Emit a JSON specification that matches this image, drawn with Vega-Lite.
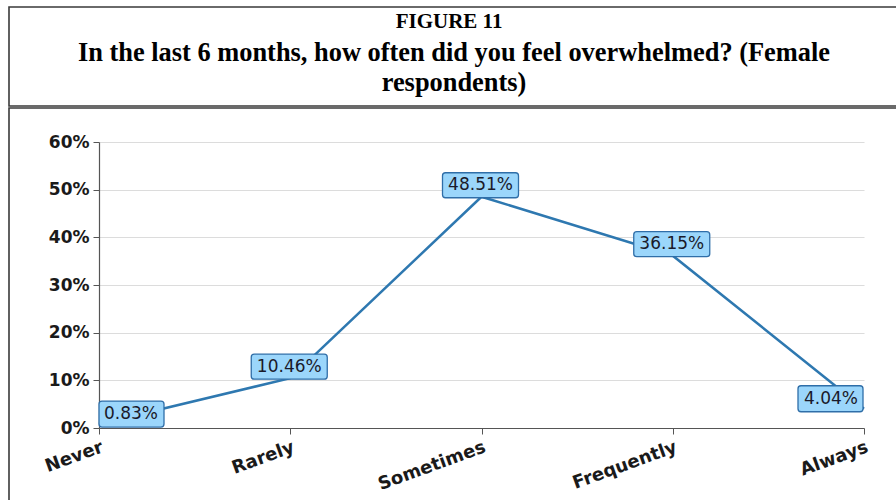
{
  "$schema": "https://vega.github.io/schema/vega-lite/v6.json",
  "background": "white",
  "padding": {"left": 8, "top": 6, "right": 0, "bottom": 0},
  "spacing": 0,
  "config": {"view": {"stroke": "#3a3a3a", "strokeWidth": 1.6}, "concat": {"spacing": 0}},
  "datasets": {
    "responses": [
      {"freq": "Never", "pct": 0.0083},
      {"freq": "Rarely", "pct": 0.1046},
      {"freq": "Sometimes", "pct": 0.4851},
      {"freq": "Frequently", "pct": 0.3615},
      {"freq": "Always", "pct": 0.0404}
    ]
  },
  "vconcat": [
    {
      "width": 890,
      "height": 99,
      "data": {"values": [
        {"line": 1, "t": "FIGURE 11"},
        {"line": 2, "t": "In the last 6 months, how often did you feel overwhelmed? (Female"},
        {"line": 3, "t": "respondents)"}
      ]},
      "encoding": {
        "y": {"field": "line", "type": "ordinal", "scale": {"type": "point", "range": [15, 75], "padding": 0}, "axis": null},
        "text": {"field": "t", "type": "nominal"}
      },
      "layer": [
        {
          "transform": [{"filter": "datum.line == 1"}],
          "mark": {"type": "text", "font": "Liberation Serif", "fontWeight": "bold", "fontSize": 21, "color": "black", "baseline": "middle", "align": "center", "dx": -5}
        },
        {
          "transform": [{"filter": "datum.line != 1"}],
          "mark": {"type": "text", "font": "Liberation Serif", "fontWeight": "bold", "fontSize": 26.4, "color": "black", "baseline": "middle", "align": "center", "dy": 1}
        }
      ]
    },
    {
      "width": 890,
      "height": 400,
      "data": {"name": "responses"},
      "encoding": {
        "x": {
          "field": "freq", "type": "ordinal",
          "sort": ["Never", "Rarely", "Sometimes", "Frequently", "Always"],
          "scale": {"type": "point", "range": [90, 855], "padding": 0},
          "axis": {"title": null, "offset": -80, "labelAngle": -20, "labelAlign": "right", "labelBaseline": "top",
                   "labelFont": "DejaVu Sans", "labelFontWeight": "bold", "labelFontSize": 18, "labelColor": "#1a1a1a",
                   "labelPadding": 4, "tickSize": 6, "tickColor": "#555", "domainColor": "#555", "domainWidth": 1.2, "grid": false}
        },
        "y": {
          "field": "pct", "type": "quantitative",
          "scale": {"domain": [0, 0.6], "range": [320, 34], "nice": false},
          "axis": {"title": null, "offset": -90, "format": ".0%", "values": [0, 0.1, 0.2, 0.3, 0.4, 0.5, 0.6],
                   "labelFont": "DejaVu Sans", "labelFontWeight": "bold", "labelFontSize": 17, "labelColor": "#1a1a1a",
                   "labelPadding": 4, "tickSize": 6, "tickColor": "#555", "domainColor": "#555", "domainWidth": 1.2,
                   "grid": true, "gridColor": "#dcdcdc", "gridWidth": 1.2}
        }
      },
      "layer": [
        {
          "data": {"values": [{"area": "plot"}]},
          "mark": {"type": "rect", "fill": {"gradient": "linear", "x1": 0, "y1": 0, "x2": 0, "y2": 1,
                   "stops": [{"offset": 0, "color": "rgba(0,0,0,0.015)"}, {"offset": 1, "color": "rgba(0,0,0,0.105)"}]}},
          "encoding": {
            "x": {"datum": "Never", "type": "ordinal"},
            "x2": {"datum": "Always"},
            "y": {"datum": 0, "type": "quantitative"},
            "y2": {"datum": 0.6}
          }
        },
        {
          "mark": {"type": "line", "color": "#2e78b0", "strokeWidth": 2.5}
        },
        {
          "transform": [{"filter": "datum.freq != 'Never' && datum.freq != 'Always'"}],
          "mark": {"type": "rect", "fill": "#9bd6fb", "stroke": "#2f6ea8", "strokeWidth": 1.3, "cornerRadius": 3,
                   "xOffset": -39, "x2Offset": 37, "yOffset": -24, "y2Offset": 1},
          "encoding": {"x2": {"field": "freq"}, "y2": {"field": "pct"}}
        },
        {
          "transform": [{"filter": "datum.freq == 'Never'"}],
          "mark": {"type": "rect", "fill": "#9bd6fb", "stroke": "#2f6ea8", "strokeWidth": 1.3, "cornerRadius": 3,
                   "xOffset": 0, "x2Offset": 65, "yOffset": -23, "y2Offset": 3},
          "encoding": {"x2": {"field": "freq"}, "y2": {"field": "pct"}}
        },
        {
          "transform": [{"filter": "datum.freq == 'Always'"}],
          "mark": {"type": "rect", "fill": "#9bd6fb", "stroke": "#2f6ea8", "strokeWidth": 1.3, "cornerRadius": 3,
                   "xOffset": -66, "x2Offset": -1, "yOffset": -23, "y2Offset": 3},
          "encoding": {"x2": {"field": "freq"}, "y2": {"field": "pct"}}
        },
        {
          "transform": [{"filter": "datum.freq != 'Never' && datum.freq != 'Always'"}],
          "mark": {"type": "text", "font": "DejaVu Sans", "fontSize": 17, "color": "#1a1a2a", "align": "center", "baseline": "middle", "dx": -1, "dy": -11.5},
          "encoding": {"text": {"field": "pct", "type": "quantitative", "format": ".2%"}}
        },
        {
          "transform": [{"filter": "datum.freq == 'Never'"}],
          "mark": {"type": "text", "font": "DejaVu Sans", "fontSize": 17, "color": "#1a1a2a", "align": "left", "baseline": "middle", "dx": 5, "dy": -10},
          "encoding": {"text": {"field": "pct", "type": "quantitative", "format": ".2%"}}
        },
        {
          "transform": [{"filter": "datum.freq == 'Always'"}],
          "mark": {"type": "text", "font": "DejaVu Sans", "fontSize": 17, "color": "#1a1a2a", "align": "right", "baseline": "middle", "dx": -6, "dy": -10},
          "encoding": {"text": {"field": "pct", "type": "quantitative", "format": ".2%"}}
        }
      ]
    }
  ]
}
